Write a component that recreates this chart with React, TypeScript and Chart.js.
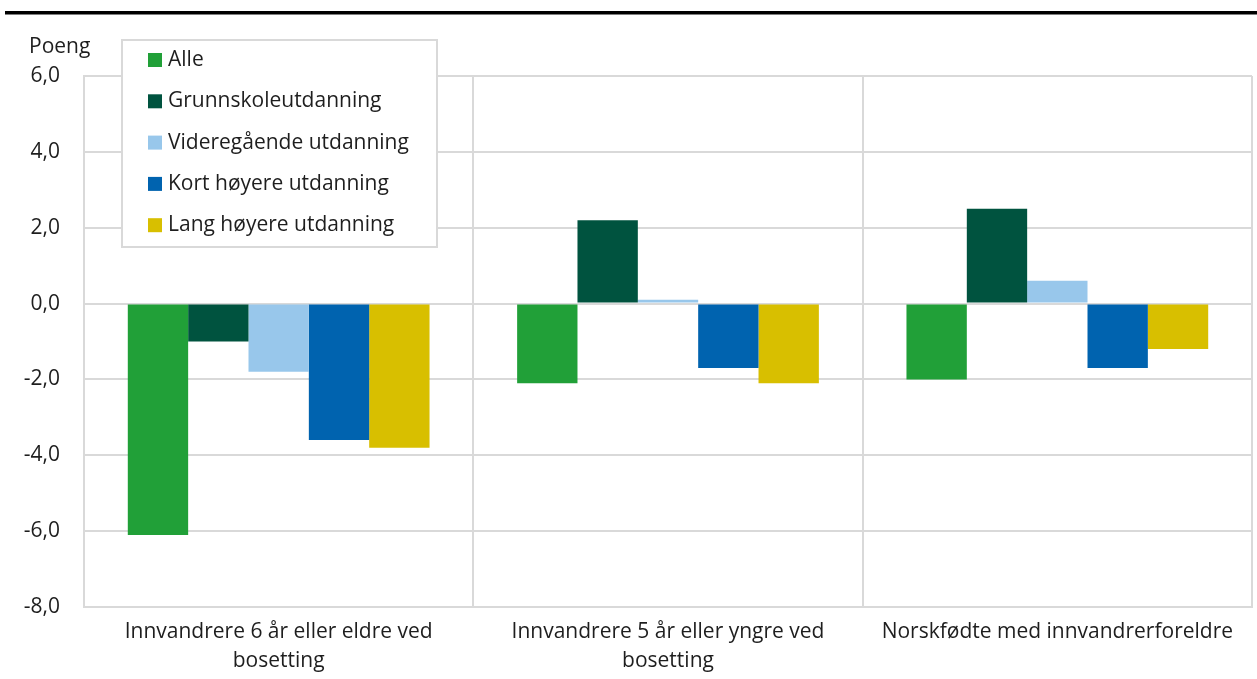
import React, { useEffect, useRef } from "react";
import { Chart, registerables } from "chart.js";

Chart.register(...registerables);

const categories: string[][] = [
  ["Innvandrere 6 år eller eldre ved", "bosetting"],
  ["Innvandrere 5 år eller yngre ved", "bosetting"],
  ["Norskfødte med innvandrerforeldre"],
];

const seriesNames = [
  "Alle",
  "Grunnskoleutdanning",
  "Videregående utdanning",
  "Kort høyere utdanning",
  "Lang høyere utdanning",
];

const alle = [-6.1, -2.1, -2.0];
const grunnskole = [-1.0, 2.2, 2.5];
const videregaende = [-1.8, 0.1, 0.6];
const kortHoyere = [-3.6, -1.7, -1.7];
const langHoyere = [-3.8, -2.1, -1.2];

const colors = ["#21a038", "#00533f", "#98c7eb", "#0063af", "#d8bf00"];

const yMin = -8;
const yMax = 6;
const yStep = 2;
const yTitle = "Poeng";

const FONT = "'Open Sans', sans-serif";
const FS = 21;
const TEXT = "#1e1e1e";
const GRID = "#d9d9d9";

const overlayPlugin = {
  id: "overlay",
  afterDraw(chart: any) {
    const ctx = chart.ctx as CanvasRenderingContext2D;
    ctx.save();
    // top black rule
    ctx.fillStyle = "#000";
    ctx.fillRect(5, 11, 1252, 3.5);
    // y axis title
    ctx.fillStyle = TEXT;
    ctx.font = `${FS}px ${FONT}`;
    ctx.textAlign = "left";
    ctx.textBaseline = "middle";
    ctx.fillText(yTitle, 29, 47);
    // legend box
    const bx = 122, by = 40, bw = 315, bh = 207;
    ctx.fillStyle = "#fff";
    ctx.fillRect(bx, by, bw, bh);
    ctx.strokeStyle = GRID;
    ctx.lineWidth = 2;
    ctx.strokeRect(bx, by, bw, bh);
    const ds = chart.data.datasets;
    ds.forEach((d: any, i: number) => {
      const cy = 60 + i * 41.3;
      ctx.fillStyle = d.backgroundColor;
      ctx.fillRect(148, cy - 7, 14, 14);
      ctx.fillStyle = TEXT;
      ctx.font = `${FS}px ${FONT}`;
      ctx.textAlign = "left";
      ctx.textBaseline = "middle";
      ctx.fillText(d.label, 168, cy);
    });
    ctx.restore();
  },
};

export default function App() {
  const ref = useRef<HTMLCanvasElement>(null);
  useEffect(() => {
    if (!ref.current) return;
    const values = [alle, grunnskole, videregaende, kortHoyere, langHoyere];
    const chart = new Chart(ref.current, {
      type: "bar",
      data: {
        labels: categories,
        datasets: values.map((v, i) => ({
          label: seriesNames[i],
          data: v,
          backgroundColor: colors[i],
          borderWidth: 0,
          categoryPercentage: 0.775,
          barPercentage: 1,
        })),
      },
      options: {
        animation: false,
        responsive: false,
        maintainAspectRatio: false,
        layout: { padding: { top: 76, right: 5, left: 0, bottom: 0 } },
        plugins: {
          legend: { display: false },
          tooltip: { enabled: false },
          title: { display: false },
        },
        scales: {
          x: {
            grid: { color: GRID, lineWidth: 2, drawTicks: false, offset: true },
            border: { color: GRID, width: 2 },
            ticks: {
              color: TEXT,
              font: { family: FONT, size: FS, lineHeight: 1.36 },
              padding: 11,
              maxRotation: 0,
              autoSkip: false,
            },
            afterFit: (s: any) => {
              s.height = 72;
            },
          },
          y: {
            min: yMin,
            max: yMax,
            grid: { color: GRID, lineWidth: 2, drawTicks: false },
            border: { color: GRID, width: 2 },
            ticks: {
              stepSize: yStep,
              color: TEXT,
              font: { family: FONT, size: FS },
              padding: 24,
              callback: (v: any) => Number(v).toFixed(1).replace(".", ","),
            },
            afterFit: (s: any) => {
              s.width = 84;
            },
          },
        },
      },
      plugins: [overlayPlugin],
    });
    return () => chart.destroy();
  }, []);
  return (
    <div style={{ position: "fixed", left: 0, top: 0, width: 1257, height: 679, background: "#fff" }}>
      <canvas ref={ref} width={1257} height={679} style={{ display: "block" }} />
    </div>
  );
}
